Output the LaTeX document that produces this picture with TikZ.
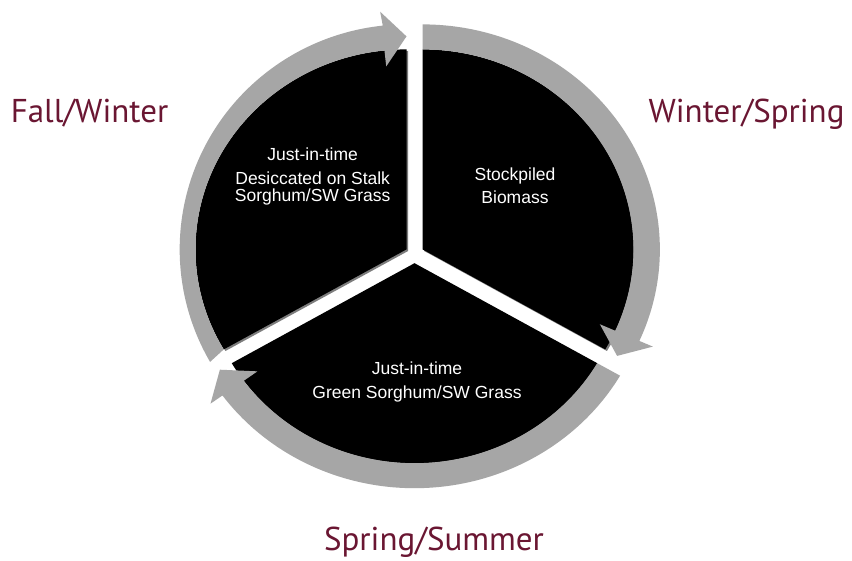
\documentclass[tikz,border=0pt]{standalone}
\usepackage{fontspec}
\newfontfamily\innerfont{Liberation Sans}
\newfontfamily\seasonfont{PT Sans}
\definecolor{ringgray}{RGB}{166,166,166}
\definecolor{shadowgray}{RGB}{125,125,125}
\definecolor{seasonred}{RGB}{106,22,50}
\newcommand\cyclesector[3]{%
  \begin{scope}[shift={(#1)}, xscale=1.055]
    \begin{scope}[shift={(1.6,-1.6)}]
      \fill[sectorshadow] (0,0) -- (#2:200) arc[start angle=#2, end angle=#3, radius=200] -- cycle;
    \end{scope}
    \fill[sectorfill] (0,0) -- (#2:200) arc[start angle=#2, end angle=#3, radius=200] -- cycle;
  \end{scope}}
% #1 centre, #2 tip angle, #3 tail angle, #4 outer x radius
\newcommand\cyclearrow[4]{%
  \pgfmathsetmacro\headbase{#2+6}%
  \begin{scope}[shift={(#1)}, xscale=1.055]
    \fill[ringarrow] (#3:200) arc[start angle=#3, end angle=\headbase, radius=200]
      -- (\headbase:184) -- (#2:213) -- (\headbase:239) -- (\headbase:#4 and 225)
      arc[start angle=\headbase, end angle=#3, x radius=#4, y radius=225] -- cycle;
  \end{scope}}
\begin{document}
\begin{tikzpicture}[x=1pt,y=1pt,
  sectorfill/.style={fill=black},
  sectorshadow/.style={fill=shadowgray},
  ringarrow/.style={fill=ringgray},
  season/.style={text=seasonred, font=\seasonfont\fontsize{33}{38}\selectfont, anchor=base, inner sep=0pt},
  innertext/.style={text=white, font=\innerfont\fontsize{17.5}{17.5}\selectfont, align=center, anchor=base, inner sep=0pt}]
\useasboundingbox (0,0) rectangle (852,560);
\fill[white] (0,0) rectangle (852,560);
\coordinate (cl) at (406.5,310.6);
\coordinate (cr) at (422.5,310.6);
\coordinate (cb) at (414.5,296.8);
% sectors
\cyclesector{cl}{90}{210}
\cyclesector{cr}{-30}{90}
\cyclesector{cb}{210}{330}
% arrows
\cyclearrow{cl}{90}{210}{215}
\cyclearrow{cr}{-30}{90}{225}
\cyclearrow{cb}{210}{330}{225}
% texts (anchor base = last line)
\node[innertext] (tleft) at (312.7,358) {Just-in-time\\[6.5pt]Desiccated on Stalk\\Sorghum/SW Grass};
\node[innertext] (tright) at (515,356) {Stockpiled\\[5.5pt]Biomass};
\node[innertext] (tbottom) at (417,161) {Just-in-time\\[6.5pt]Green Sorghum/SW Grass};
\node[season] (fw) at (89.5,437) {Fall/Winter};
\node[season] (ws) at (746.5,437) {Winter/Spring};
\node[season] (ss) at (434,9.5) {Spring/Summer};
\end{tikzpicture}
\end{document}
